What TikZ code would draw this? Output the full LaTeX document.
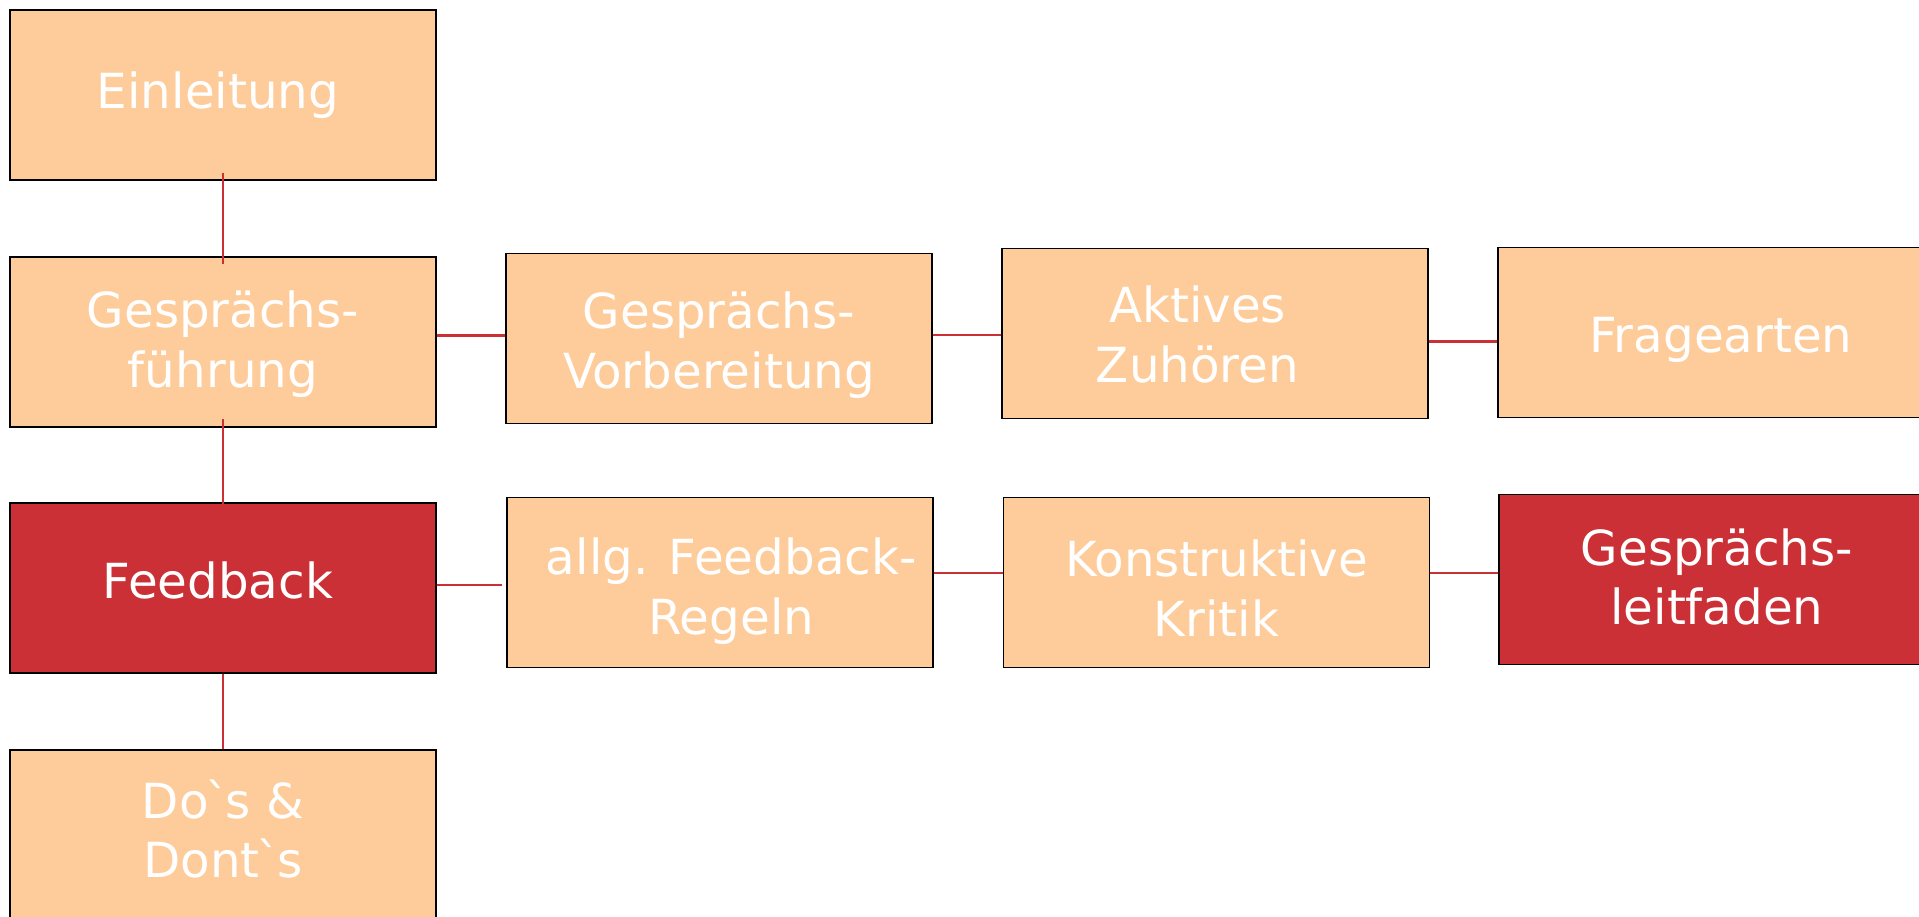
\documentclass[tikz,border=0pt]{standalone}
\usepackage{fontspec}
\setmainfont{DejaVu Sans}
\usepackage{tikz}

\definecolor{peach}{RGB}{254,204,154}
\definecolor{boxred}{RGB}{202,48,53}
% invisible struts to set where the lines sit in a box
\newcommand{\txtht}[1]{\rule{0pt}{#1}}
\newcommand{\txtdp}[1]{\rule[-#1]{0pt}{0pt}}
\newcommand{\tick}{\kern-0.07em\textasciigrave\kern-0.07em}

\begin{document}
\begin{tikzpicture}[
	box/.style={draw=black,line width=0.9pt,minimum width=8.52cm,minimum height=3.4cm,
		inner sep=0pt,align=center,text=white,font=\fontsize{27.5}{34}\selectfont},
	topic/.style={box,fill=peach},
	focus/.style={box,fill=boxred},
	link/.style={boxred,line width=1.2pt}]
\useasboundingbox (0,0) rectangle (38.38,-18.32);
\clip (0,0) rectangle (38.38,-18.32);

% left column
\node[topic] (einl) at (4.46,-1.9) {Einleitung\hspace*{0.2cm}};
\node[topic] (gf) at (4.46,-6.84) {\txtht{23.6pt}Gesprächs-\\führung};
\node[focus,text depth=8.4pt] (fb) at (4.46,-11.76) {Feedback\hspace*{0.2cm}};
\node[topic] (dos) at (4.46,-16.7) {Do\tick s \&\\Dont\tick s\txtdp{7.3pt}};

% upper row
\node[topic] (vorb) at (14.38,-6.77) {\txtht{28.1pt}Gesprächs-\\Vorbereitung};
\node[topic] (akt) at (24.3,-6.67) {\txtht{22.1pt}Aktives\hspace*{0.7cm}\\Zuhören\hspace*{0.7cm}};
\node[topic,text height=28.7pt] (frag) at (34.22,-6.65) {\hspace*{0.4cm}Fragearten};

% lower row
\node[topic] (allg) at (14.4,-11.65) {\txtht{30.4pt}\hspace*{0.45cm}allg. Feedback-\\\hspace*{0.45cm}Regeln};
\node[topic] (konst) at (24.33,-11.65) {\txtht{27.2pt}Konstruktive\\Kritik};
\node[focus] (leit) at (34.24,-11.59) {\hspace*{0.2cm}Gesprächs-\\\hspace*{0.2cm}leitfaden\txtdp{3.3pt}};

% vertical links
\draw[link] ([yshift=0.15cm]einl.south) -- ([yshift=-0.15cm]gf.north);
\draw[link] ([yshift=0.17cm]gf.south) -- ([yshift=-0.12cm]fb.north);
\draw[link] (fb.south) -- (dos.north);

% horizontal links
\draw[link] ([yshift=0.13cm]gf.east) -- ([yshift=0.13cm]gf.east -| vorb.west);
\draw[link] ([yshift=0.07cm]vorb.east) -- ([yshift=0.07cm]vorb.east -| akt.west);
\draw[link] ([yshift=-0.16cm]akt.east) -- ([yshift=-0.16cm]akt.east -| frag.west);
\draw[link] ([yshift=0.06cm]fb.east) -- ([yshift=0.06cm,xshift=-0.08cm]fb.east -| allg.west);
\draw[link] ([yshift=0.19cm]allg.east) -- ([yshift=0.19cm]allg.east -| konst.west);
\draw[link] ([yshift=0.19cm]konst.east) -- ([yshift=0.19cm]konst.east -| leit.west);
\end{tikzpicture}
\end{document}
